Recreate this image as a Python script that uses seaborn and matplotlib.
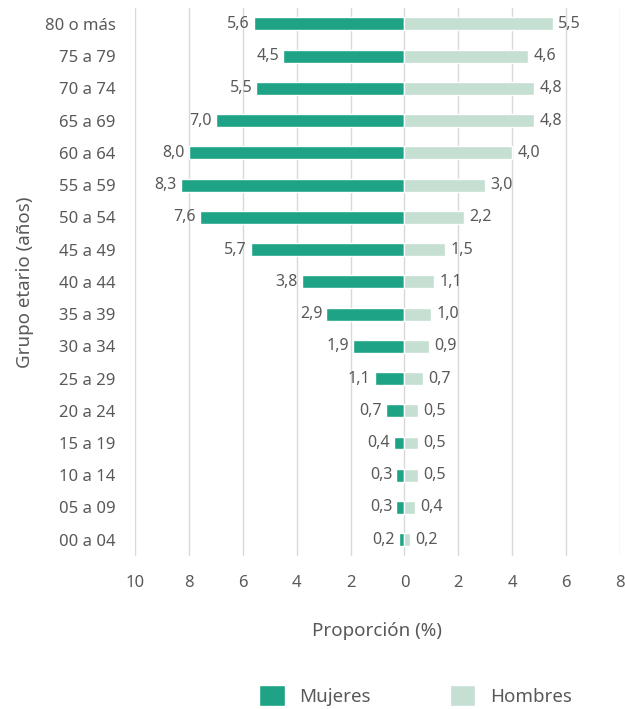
import matplotlib
matplotlib.use("Agg")
import matplotlib.pyplot as plt
from matplotlib.patches import Patch
import seaborn as sns
import pandas as pd

groups = ["80 o más", "75 a 79", "70 a 74", "65 a 69", "60 a 64", "55 a 59",
          "50 a 54", "45 a 49", "40 a 44", "35 a 39", "30 a 34", "25 a 29",
          "20 a 24", "15 a 19", "10 a 14", "05 a 09", "00 a 04"]
mujeres = [5.6, 4.5, 5.5, 7.0, 8.0, 8.3, 7.6, 5.7, 3.8, 2.9, 1.9, 1.1, 0.7, 0.4, 0.3, 0.3, 0.2]
hombres = [5.5, 4.6, 4.8, 4.8, 4.0, 3.0, 2.2, 1.5, 1.1, 1.0, 0.9, 0.7, 0.5, 0.5, 0.5, 0.4, 0.2]
xticks = [-10, -8, -6, -4, -2, 0, 2, 4, 6, 8]
xticklabels = ["10", "8", "6", "4", "2", "0", "2", "4", "6", "8"]

c_muj = "#1fa386"
c_hom = "#c5dfd2"
txt = "#595959"

sns.set_theme(style="white")
plt.rcParams["font.family"] = ["Noto Sans", "DejaVu Sans"]
plt.rcParams["font.weight"] = "light"

df = pd.DataFrame({"grupo": groups, "mujeres": mujeres, "hombres": hombres})
df["mujeres_neg"] = -df["mujeres"]

fig = plt.figure(figsize=(6.25, 7.09), dpi=100)
ax = fig.add_axes([0.216, 0.216, 0.776, 0.773])

sns.barplot(data=df, x="mujeres_neg", y="grupo", order=groups, orient="h",
            color=c_muj, width=0.4, saturation=1, ax=ax, zorder=3)
sns.barplot(data=df, x="hombres", y="grupo", order=groups, orient="h",
            color=c_hom, width=0.4, saturation=1, ax=ax, zorder=3)

for i, (m, h) in enumerate(zip(mujeres, hombres)):
    ax.text(-m - 0.15, i, f"{m:.1f}".replace(".", ","), ha="right", va="center",
            fontsize=11.5, color=txt)
    ax.text(h + 0.2, i, f"{h:.1f}".replace(".", ","), ha="left", va="center",
            fontsize=11.5, color=txt)

ax.set_xlim(-10, 8)
ax.set_ylim(len(groups) - 0.5, -0.5)
ax.set_xticks(xticks)
ax.set_xticklabels(xticklabels)
ax.grid(axis="x", color="#d9d9d9", linewidth=1, zorder=0)
ax.grid(axis="y", visible=False)
for s in ax.spines.values():
    s.set_visible(False)
ax.tick_params(axis="both", length=0, labelsize=12, labelcolor=txt)
ax.tick_params(axis="x", pad=14)
ax.tick_params(axis="y", pad=14)
ax.set_xlabel("Proporción (%)", fontsize=13.5, color=txt, labelpad=22)
ax.set_ylabel("Grupo etario (años)", fontsize=13.5, color=txt, labelpad=8)

handles = [Patch(facecolor=c_muj, label="Mujeres"), Patch(facecolor=c_hom, label="Hombres")]
fig.legend(handles=handles, loc="lower center", bbox_to_anchor=(0.665, -0.014), ncol=2,
           frameon=False, fontsize=13.5, labelcolor=txt, handlelength=1.35,
           handleheight=1.35, columnspacing=4.2, handletextpad=0.8, borderpad=0.2)

fig.savefig("out.png", dpi=100)
